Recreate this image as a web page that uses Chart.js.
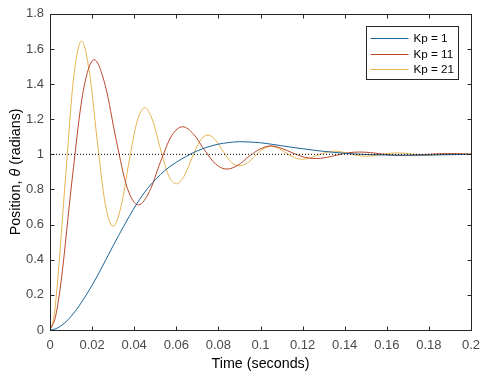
<!DOCTYPE html>
<html>
<head>
<meta charset="utf-8">
<script src="https://cdn.jsdelivr.net/npm/chart.js@4.4.1/dist/chart.umd.min.js"></script>
<style>
  html, body { margin: 0; padding: 0; background: #fff; }
  #wrap { width: 489px; height: 379px; }
</style>
</head>
<body>
<div id="wrap"><canvas id="stepChart" width="489" height="379"></canvas></div>
<script>
// Step responses: time (s) and position (rad)
const tKp1 = [0, 0.0025, 0.005, 0.0075, 0.01, 0.0125, 0.015, 0.0175, 0.02, 0.0225,
  0.025, 0.0275, 0.03, 0.035, 0.04, 0.045, 0.05, 0.055, 0.06, 0.065,
  0.07, 0.075, 0.08, 0.085, 0.09, 0.095, 0.1, 0.105, 0.11, 0.115,
  0.12, 0.125, 0.13, 0.135, 0.14, 0.145, 0.15, 0.16, 0.17, 0.18, 0.19, 0.2];
const yKp1 = [0, 0.006, 0.022, 0.045, 0.078, 0.115, 0.158, 0.205, 0.255, 0.308,
  0.365, 0.422, 0.480, 0.590, 0.695, 0.785, 0.855, 0.912, 0.955, 0.990,
  1.020, 1.042, 1.058, 1.067, 1.072, 1.070, 1.066, 1.058, 1.049, 1.040,
  1.032, 1.024, 1.017, 1.011, 1.006, 1.002, 0.999, 0.996, 0.995, 0.996, 0.998, 1.000];

const tKp11 = [0, 0.0026, 0.00525, 0.0105, 0.01575, 0.021, 0.02625, 0.0315, 0.03675, 0.042,
  0.04725, 0.0525, 0.05775, 0.063, 0.06825, 0.0735, 0.07875, 0.084, 0.08925, 0.0945,
  0.09975, 0.105, 0.11025, 0.1155, 0.12075, 0.126, 0.13125, 0.1365, 0.14175, 0.147,
  0.15225, 0.1575, 0.16275, 0.168, 0.17325, 0.1785, 0.18375, 0.189, 0.19425, 0.1995, 0.2];
const yKp11 = [0, 0.075, 0.275, 0.856, 1.358, 1.538, 1.392, 1.078, 0.807, 0.712,
  0.789, 0.958, 1.105, 1.157, 1.114, 1.023, 0.944, 0.916, 0.938, 0.988,
  1.030, 1.048, 1.033, 1.007, 0.984, 0.976, 0.982, 0.996, 1.009, 1.013,
  1.010, 1.002, 0.995, 0.993, 0.995, 0.999, 1.003, 1.004, 1.003, 1.001, 1.001];

const tKp21 = [0, 0.0019, 0.00375, 0.0075, 0.01125, 0.015, 0.01875, 0.0225, 0.02625, 0.03,
  0.03375, 0.0375, 0.04125, 0.045, 0.04875, 0.0525, 0.05625, 0.06, 0.06375, 0.0675,
  0.07125, 0.075, 0.07875, 0.0825, 0.08625, 0.09, 0.09375, 0.0975, 0.10125, 0.105,
  0.10875, 0.1125, 0.11625, 0.12, 0.12375, 0.1275, 0.13125, 0.135, 0.13875, 0.1425,
  0.14625, 0.15, 0.15375, 0.1575, 0.16125, 0.165, 0.16875, 0.1725, 0.17625, 0.18,
  0.18375, 0.1875, 0.19125, 0.195, 0.19875, 0.2];
const yKp21 = [0, 0.075, 0.300, 0.888, 1.438, 1.645, 1.465, 1.072, 0.717, 0.590,
  0.703, 0.954, 1.182, 1.266, 1.193, 1.030, 0.882, 0.832, 0.876, 0.981,
  1.076, 1.110, 1.080, 1.012, 0.953, 0.935, 0.950, 0.992, 1.031, 1.045,
  1.033, 1.005, 0.981, 0.972, 0.980, 0.997, 1.012, 1.018, 1.013, 1.002,
  0.993, 0.989, 0.992, 0.999, 1.006, 1.008, 1.006, 1.000, 0.996, 0.995,
  0.997, 1.000, 1.002, 1.003, 1.002, 1.001];

// dotted reference at the set point
const tRef = [0, 0.2];
const yRef = [1, 1];

const xTicks = [0, 0.02, 0.04, 0.06, 0.08, 0.1, 0.12, 0.14, 0.16, 0.18, 0.2];
const xTickLabels = ["0", "0.02", "0.04", "0.06", "0.08", "0.1", "0.12", "0.14", "0.16", "0.18", "0.2"];
const yTicks = [0, 0.2, 0.4, 0.6, 0.8, 1, 1.2, 1.4, 1.6, 1.8];
const yTickLabels = ["0", "0.2", "0.4", "0.6", "0.8", "1", "1.2", "1.4", "1.6", "1.8"];

const seriesLabels = ["Kp = 1", "Kp = 11", "Kp = 21"];
const seriesColors = ["#1b6699", "#b9482c", "#e6b450"];

const FONT = "'Liberation Sans', Arial, sans-serif";
const AXIS_COLOR = "#262626";

function toPoints(xs, ys) {
  return xs.map((x, i) => ({ x: x, y: ys[i] }));
}

function lineSet(label, xs, ys, color) {
  return {
    label: label,
    data: toPoints(xs, ys),
    borderColor: color,
    backgroundColor: color,
    borderWidth: 1,
    pointRadius: 0,
    cubicInterpolationMode: "monotone",
    fill: false,
  };
}

// MATLAB style box, inward ticks, y title with italic theta, legend
const matlabAxes = {
  id: "matlabAxes",
  afterDatasetsDraw(chart) {
    const ctx = chart.ctx;
    const area = chart.chartArea;
    const xs = chart.scales.x;
    const ys = chart.scales.y;
    const L = Math.round(area.left) + 0.5;
    const R = Math.round(area.right) + 0.5;
    const T = Math.round(area.top) + 0.5;
    const B = Math.round(area.bottom) + 0.5;
    const tick = 4;

    ctx.save();
    ctx.strokeStyle = AXIS_COLOR;
    ctx.lineWidth = 1;
    ctx.strokeRect(L, T, R - L, B - T);

    ctx.beginPath();
    xTicks.forEach((v) => {
      const px = Math.round(xs.getPixelForValue(v)) + 0.5;
      ctx.moveTo(px, B);
      ctx.lineTo(px, B - tick);
      ctx.moveTo(px, T);
      ctx.lineTo(px, T + tick);
    });
    yTicks.forEach((v) => {
      const py = Math.round(ys.getPixelForValue(v)) + 0.5;
      ctx.moveTo(L, py);
      ctx.lineTo(L + tick, py);
      ctx.moveTo(R, py);
      ctx.lineTo(R - tick, py);
    });
    ctx.stroke();

    // y axis title: "Position, θ (radians)" with italic theta
    const parts = [
      { text: "Position, ", font: "14.3px " + FONT },
      { text: "θ", font: "italic 14.3px " + FONT },
      { text: " (radians)", font: "14.3px " + FONT },
    ];
    let total = 0;
    parts.forEach((p) => {
      ctx.font = p.font;
      p.w = ctx.measureText(p.text).width;
      total += p.w;
    });
    ctx.translate(16, (area.top + area.bottom) / 2);
    ctx.rotate(-Math.PI / 2);
    ctx.fillStyle = "#000";
    ctx.textBaseline = "middle";
    ctx.textAlign = "left";
    let cx = -total / 2;
    parts.forEach((p) => {
      ctx.font = p.font;
      ctx.fillText(p.text, cx, 0);
      cx += p.w;
    });
    ctx.restore();

    // legend box, top right inside the axes
    const items = chart.data.datasets.filter((d) => d.label);
    const boxW = 92;
    const boxH = 53;
    const bx = Math.round(area.right - 13 - boxW) + 0.5;
    const by = Math.round(area.top + 12) + 0.5;
    ctx.save();
    ctx.fillStyle = "#fff";
    ctx.fillRect(bx, by, boxW, boxH);
    ctx.strokeStyle = AXIS_COLOR;
    ctx.lineWidth = 1;
    ctx.strokeRect(bx, by, boxW, boxH);
    ctx.font = "11.7px " + FONT;
    ctx.textBaseline = "middle";
    ctx.textAlign = "left";
    items.forEach((d, i) => {
      const rowY = Math.round(by + 11.5 + i * 15.5) + 0.5;
      ctx.strokeStyle = d.borderColor;
      ctx.beginPath();
      ctx.moveTo(bx + 4, rowY);
      ctx.lineTo(bx + 42, rowY);
      ctx.stroke();
      ctx.fillStyle = "#000";
      ctx.fillText(d.label, bx + 47, rowY);
    });
    ctx.restore();
  },
};

const ctx = document.getElementById("stepChart").getContext("2d");

new Chart(ctx, {
  type: "line",
  data: {
    datasets: [
      {
        label: "",
        data: toPoints(tRef, yRef),
        borderColor: "#000",
        borderWidth: 1,
        borderDash: [1, 2],
        pointRadius: 0,
        fill: false,
      },
      lineSet(seriesLabels[0], tKp1, yKp1, seriesColors[0]),
      lineSet(seriesLabels[1], tKp11, yKp11, seriesColors[1]),
      lineSet(seriesLabels[2], tKp21, yKp21, seriesColors[2]),
    ],
  },
  options: {
    responsive: false,
    animation: false,
    layout: { padding: { top: 8, right: 18, left: 0, bottom: 0 } },
    plugins: {
      legend: { display: false },
      tooltip: { enabled: false },
    },
    scales: {
      x: {
        type: "linear",
        min: 0,
        max: 0.2,
        afterBuildTicks: (scale) => {
          scale.ticks = xTicks.map((v) => ({ value: v }));
        },
        afterFit: (scale) => {
          scale.height = 49;
        },
        grid: { display: false, drawTicks: false },
        border: { display: false },
        ticks: {
          autoSkip: false,
          maxRotation: 0,
          padding: 8,
          color: "#4a4a4a",
          font: { family: FONT, size: 13 },
          callback: (v, i) => xTickLabels[i],
        },
        title: {
          display: true,
          text: "Time (seconds)",
          color: "#000",
          font: { family: FONT, size: 14.3 },
          padding: { top: 0, bottom: 6 },
        },
      },
      y: {
        type: "linear",
        min: 0,
        max: 1.8,
        afterBuildTicks: (scale) => {
          scale.ticks = yTicks.map((v) => ({ value: v }));
        },
        afterFit: (scale) => {
          scale.width = 50;
        },
        grid: { display: false, drawTicks: false },
        border: { display: false },
        ticks: {
          autoSkip: false,
          padding: 6,
          color: "#4a4a4a",
          font: { family: FONT, size: 13 },
          callback: (v, i) => yTickLabels[i],
        },
      },
    },
  },
  plugins: [matlabAxes],
});
</script>
</body>
</html>
